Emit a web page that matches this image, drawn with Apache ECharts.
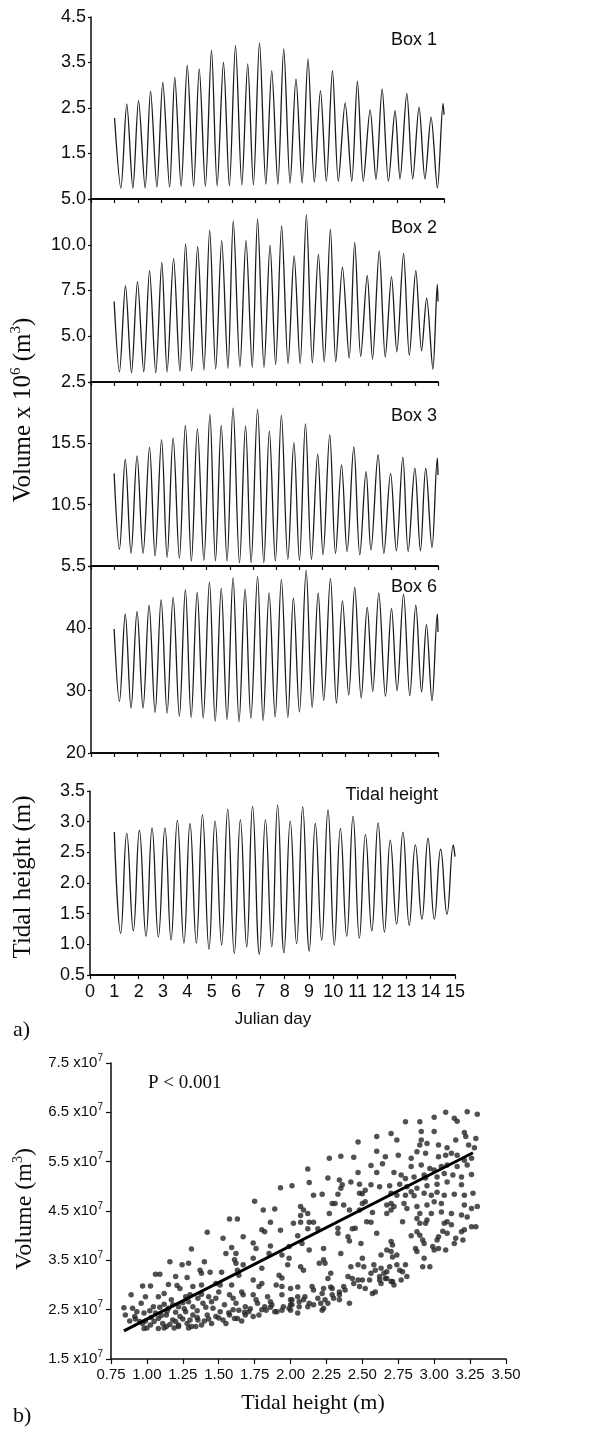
<!DOCTYPE html>
<html><head><meta charset="utf-8">
<script src="https://cdn.jsdelivr.net/npm/echarts@6/dist/echarts.min.js"></script>
<style>html,body{margin:0;padding:0;background:#fff}#c{width:594px;height:1435px}</style>
</head><body><div id="c"></div>
<script>
// ---------------- DATA ----------------
// Panel a: Julian day vs value, extrema of each tidal cycle
const box1Days = [1.00,1.27,1.52,1.78,2.02,2.30,2.53,2.80,3.05,3.34,3.56,3.83,4.09,4.36,4.60,4.86,5.12,5.36,5.63,5.88,6.14,6.41,6.66,6.90,7.16,7.43,7.68,7.94,8.19,8.46,8.71,8.97,9.22,9.49,9.75,10.00,10.26,10.51,10.80,11.08,11.32,11.57,11.86,12.11,12.37,12.64,12.92,13.13,13.42,13.67,13.94,14.19,14.45,14.72,14.96,15.00];
const box1Vals = [2.28,0.74,2.59,0.74,2.66,0.74,2.87,0.76,3.06,0.76,3.18,0.78,3.44,0.78,3.36,0.78,3.77,0.79,3.50,0.79,3.87,0.81,3.47,0.81,3.93,0.83,3.32,0.83,3.80,0.85,3.14,0.85,3.58,0.87,2.88,0.89,3.32,0.89,2.61,0.89,3.09,0.89,2.46,0.93,2.92,0.89,2.44,0.94,2.82,0.94,2.52,0.94,2.30,0.74,2.60,2.35];

const box2Days = [1.00,1.23,1.49,1.75,2.01,2.28,2.53,2.80,3.06,3.29,3.57,3.84,4.09,4.35,4.61,4.88,5.13,5.39,5.65,5.92,6.15,6.44,6.70,6.97,7.20,7.48,7.74,7.98,8.24,8.52,8.78,9.04,9.31,9.57,9.83,10.08,10.35,10.58,10.87,11.16,11.40,11.66,11.94,12.17,12.46,12.72,12.99,13.22,13.51,13.76,14.04,14.29,14.51,14.78,14.97,15.00];
const box2Vals = [6.90,3.05,7.77,3.00,7.99,3.05,8.59,3.00,9.04,3.05,9.26,3.10,10.04,3.10,9.89,3.15,10.80,3.20,10.22,3.25,11.30,3.33,10.22,3.30,11.40,3.30,9.98,3.45,11.03,3.50,9.40,3.50,11.63,3.55,9.49,3.60,10.85,3.60,8.77,3.80,10.13,3.90,8.32,3.75,9.67,3.85,8.26,4.15,9.53,3.95,8.59,4.20,7.10,3.20,7.83,6.90];

const box3Days = [1.00,1.23,1.48,1.73,1.99,2.25,2.53,2.77,3.05,3.29,3.55,3.82,4.08,4.34,4.60,4.88,5.14,5.38,5.63,5.88,6.14,6.42,6.68,6.92,7.20,7.47,7.71,7.97,8.23,8.51,8.77,9.01,9.27,9.53,9.80,10.03,10.32,10.57,10.83,11.07,11.36,11.62,11.89,12.10,12.41,12.66,12.95,13.20,13.48,13.71,14.00,14.24,14.47,14.74,14.97,15.00];
const box3Vals = [13.05,6.87,14.21,6.54,14.48,6.54,15.17,6.32,15.80,6.19,15.94,6.13,16.96,5.91,16.68,5.97,17.86,5.91,16.96,5.91,18.36,5.77,16.90,5.77,18.27,5.77,16.49,5.91,17.78,6.05,15.58,5.97,17.09,6.05,14.62,6.41,16.21,6.52,13.74,6.68,15.20,6.41,13.19,6.79,14.57,6.52,13.05,6.74,14.37,6.68,13.47,6.74,13.47,7.01,14.29,12.92];

const box6Days = [1.00,1.23,1.48,1.73,1.99,2.25,2.51,2.77,3.03,3.29,3.55,3.82,4.08,4.33,4.59,4.85,5.12,5.37,5.63,5.88,6.14,6.40,6.66,6.91,7.20,7.44,7.70,7.96,8.23,8.51,8.75,9.01,9.30,9.56,9.82,10.06,10.35,10.61,10.87,11.14,11.40,11.68,11.94,12.18,12.44,12.73,12.99,13.23,13.51,13.78,14.04,14.29,14.50,14.74,14.97,15.00];
const box6Vals = [39.9,28.3,42.3,27.2,42.7,27.2,43.7,26.5,44.6,26.4,45.0,25.9,46.2,25.7,45.8,25.6,47.4,25.1,46.4,25.4,48.1,25.0,46.3,25.6,48.3,25.2,45.7,25.8,47.8,25.7,44.9,26.6,49.3,27.3,45.7,28.4,48.0,28.0,44.4,29.3,46.6,28.8,43.4,29.9,45.7,29.1,43.2,30.0,45.5,29.2,43.7,29.8,40.6,28.4,42.3,39.4];

const tideDays = [1.00,1.26,1.51,1.78,2.03,2.30,2.55,2.81,3.08,3.33,3.59,3.86,4.11,4.37,4.62,4.89,5.14,5.41,5.66,5.93,6.18,6.44,6.68,6.96,7.21,7.47,7.71,7.97,8.23,8.49,8.74,9.01,9.26,9.52,9.78,10.04,10.29,10.55,10.81,11.07,11.32,11.58,11.84,12.10,12.34,12.60,12.86,13.12,13.37,13.64,13.89,14.15,14.41,14.67,14.93,15.00];
const tideVals = [2.83,1.18,2.81,1.22,2.86,1.13,2.90,1.12,2.90,1.07,3.02,1.02,2.97,1.02,3.11,0.92,3.01,0.99,3.20,0.85,3.03,0.96,3.25,0.84,3.03,0.96,3.27,0.86,3.01,1.01,3.24,0.89,2.97,1.07,3.19,0.99,2.89,1.13,3.09,1.10,2.79,1.22,2.98,1.20,2.70,1.33,2.83,1.31,2.62,1.41,2.73,1.41,2.55,1.49,2.62,2.43];

// tick values / labels
const dayTicks = [0,1,2,3,4,5,6,7,8,9,10,11,12,13,14,15];
const dayLabels = ['0','1','2','3','4','5','6','7','8','9','10','11','12','13','14','15'];
const box1Ticks = [0.5,1.5,2.5,3.5,4.5];
const box1Labels = ['5.0','1.5','2.5','3.5','4.5'];
const box2Ticks = [2.5,5,7.5,10,12.5];
const box2LabelVals = [2.5,5,7.5,10];
const box2Labels = ['2.5','5.0','7.5','10.0'];
const box3Ticks = [5.5,10.5,15.5,20.5];
const box3LabelVals = [5.5,10.5,15.5];
const box3Labels = ['5.5','10.5','15.5'];
const box6Ticks = [20,30,40,50];
const box6LabelVals = [20,30,40];
const box6Labels = ['20','30','40'];
const tideTicks = [0.5,1.0,1.5,2.0,2.5,3.0,3.5];
const tideLabels = ['0.5','1.0','1.5','2.0','2.5','3.0','3.5'];

// Panel b: tidal height (m) vs volume (units of 1e7 m3)
const bXTicks = [0.75,1.00,1.25,1.50,1.75,2.00,2.25,2.50,2.75,3.00,3.25,3.50];
const bXLabels = ['0.75','1.00','1.25','1.50','1.75','2.00','2.25','2.50','2.75','3.00','3.25','3.50'];
const bYTicks = [1.5,2.5,3.5,4.5,5.5,6.5,7.5];
const bYLabels = ['1.5','2.5','3.5','4.5','5.5','6.5','7.5'];
const regT = [0.84, 3.27];
const regV = [2.07, 5.68];
const scatterPts = [
[1.75,4.70],[1.81,4.52],[1.89,4.54],[1.93,4.97],
[3.08,6.50],[3.23,6.51],[3.30,6.46],[3.00,6.40],[3.14,6.38],[3.16,6.32],[2.80,6.31],[2.90,6.31],[2.70,6.07],[2.60,6.01],[2.74,5.94],[2.91,6.11],[3.00,6.11],[2.47,5.90],[3.21,6.09],[3.22,6.01],[3.29,5.97],[2.91,5.94],[2.95,5.87],[3.03,5.84],[3.15,5.94],[2.90,5.84],[3.09,5.78],[3.24,5.84],[3.28,5.78],[2.60,5.71],[2.66,5.60],[2.75,5.63],[2.84,5.57],[2.88,5.70],[2.94,5.67],[3.03,5.60],[3.08,5.63],[3.12,5.67],[3.16,5.63],[3.21,5.53],[3.26,5.57],[2.35,5.61],[2.27,5.57],[2.44,5.59],[2.56,5.42],[2.64,5.46],[2.84,5.40],[2.91,5.43],[2.97,5.36],[3.00,5.33],[3.05,5.40],[3.09,5.43],[3.16,5.40],[3.23,5.43],[2.12,5.35],[2.26,5.17],[2.34,5.13],[2.42,5.09],[2.47,5.28],[2.60,5.28],[2.72,5.28],[2.77,5.23],[2.80,5.16],[2.86,5.19],[2.93,5.23],[2.94,5.17],[3.02,5.19],[3.07,5.26],[3.13,5.23],[3.19,5.19],[3.26,5.24],[2.13,5.08],[2.36,5.03],[2.48,5.04],[2.56,5.03],[2.62,4.99],[2.69,5.01],[2.76,5.04],[2.81,4.99],[2.84,4.89],[2.88,4.96],[2.95,5.01],[3.02,5.04],[3.09,5.09],[3.19,5.03],[2.01,5.01],[2.16,4.82],[2.22,4.84],[2.33,4.84],[2.35,4.96],[2.48,4.86],[2.50,4.85],[2.52,4.92],[2.70,4.86],[2.74,4.82],[2.80,4.82],[2.86,4.81],[2.93,4.86],[2.98,4.82],[3.02,4.88],[3.07,4.82],[3.14,4.84],[3.21,4.82],[3.27,4.86],[2.07,4.59],[2.09,4.52],[2.12,4.45],[2.29,4.65],[2.31,4.65],[2.37,4.62],[2.50,4.65],[2.52,4.69],[2.67,4.62],[2.70,4.65],[2.72,4.59],[2.79,4.65],[2.81,4.55],[2.88,4.59],[2.95,4.62],[3.00,4.69],[3.05,4.65],[3.21,4.62],[3.26,4.55],[3.30,4.59],[2.27,4.45],[2.41,4.52],[2.48,4.52],[2.57,4.47],[2.67,4.45],[2.70,4.52],[2.90,4.45],[2.98,4.45],[3.05,4.48],[3.12,4.45],[3.19,4.42],[3.23,4.38],
[1.575,4.34],[1.63,4.34],[1.86,4.27],[1.80,4.12],[1.82,4.08],[1.93,4.11],[1.42,4.07],[1.67,3.98],[1.53,3.95],[1.74,3.85],[1.59,3.76],[1.76,3.74],[1.86,3.79],[1.99,3.78],[1.31,3.73],[1.55,3.64],[1.62,3.64],[1.85,3.64],[1.94,3.61],[1.16,3.47],[1.29,3.44],[1.245,3.41],[1.40,3.47],[1.61,3.51],[1.62,3.44],[1.67,3.41],[1.74,3.54],[1.80,3.34],[1.99,3.54],[1.98,3.41],[1.06,3.22],[1.09,3.22],[1.20,3.17],[1.28,3.15],[1.37,3.30],[1.38,3.24],[1.44,3.26],[1.52,3.26],[1.63,3.30],[1.64,3.20],[1.74,3.10],[1.92,3.20],[1.94,3.14],[0.97,2.98],[1.025,2.98],[1.15,3.01],[1.21,2.99],[1.23,2.93],[1.32,2.97],[1.38,3.00],[1.48,3.03],[1.51,3.00],[1.59,3.00],[1.66,2.86],[1.67,2.80],[1.80,3.03],[1.78,2.97],[1.90,3.00],[1.94,2.97],[2.00,2.93],[0.89,2.80],[0.99,2.76],[1.08,2.76],[1.12,2.83],[1.17,2.70],[1.27,2.76],[1.30,2.80],[1.38,2.81],[1.355,2.73],[1.43,2.76],[1.50,2.86],[1.48,2.73],[1.575,2.80],[1.60,2.73],[1.74,2.80],[1.76,2.70],[1.84,2.76],[1.86,2.66],[1.94,2.80],[2.00,2.70],[0.84,2.54],[0.90,2.53],[0.96,2.63],[1.045,2.56],[1.12,2.61],[1.15,2.53],[1.22,2.56],[1.29,2.66],[1.32,2.56],[1.39,2.63],[1.45,2.66],[1.46,2.53],[1.54,2.60],[1.62,2.63],[1.64,2.49],[1.685,2.56],[1.77,2.63],[1.82,2.56],[1.87,2.60],[1.905,2.46],[1.95,2.56],[2.01,2.60],[0.85,2.39],[0.915,2.36],[0.98,2.43],[0.99,2.27],[1.06,2.43],[1.08,2.32],[1.135,2.39],[1.18,2.29],[1.23,2.36],[1.27,2.46],[1.32,2.39],[1.355,2.29],[1.42,2.39],[1.48,2.36],[1.51,2.46],[1.575,2.39],[1.61,2.32],[1.685,2.39],[1.71,2.46],[1.78,2.39],[1.83,2.49],[1.89,2.46],[1.94,2.49],[1.99,2.53],[0.88,2.27],[0.95,2.26],[0.97,2.22],[1.025,2.19],[1.05,2.26],[1.11,2.22],[1.135,2.16],[1.20,2.26],[1.22,2.19],[1.28,2.22],[1.31,2.16],[1.38,2.19],[1.40,2.27],[1.45,2.22],[1.53,2.29],[1.55,2.22],[1.63,2.32],[1.66,2.27],[1.74,2.36],[0.98,2.12],[1.00,2.13],[1.08,2.12],[1.12,2.13],[1.19,2.13],[1.22,2.16],[1.29,2.13],[1.34,2.16],
[0.92,2.31],[1.03,2.34],[1.10,2.38],[1.16,2.20],[1.25,2.31],[1.30,2.29],[1.35,2.34],[1.43,2.31],[1.50,2.33],[1.57,2.44],[1.60,2.50],[1.68,2.45],[1.72,2.52],[1.80,2.50],[1.86,2.55],[1.14,2.47],[1.20,2.45],[1.26,2.52],[1.35,2.48],[1.41,2.55],[0.93,2.46],[1.02,2.48],[1.09,2.55],[1.18,2.60],[1.25,2.64],
[2.07,4.41],[2.02,4.25],[2.07,4.27],[2.13,4.27],[2.16,4.27],[2.19,4.14],[2.12,4.14],[2.05,4.00],[2.08,3.84],[2.33,4.15],[2.33,4.05],[2.43,4.14],[2.45,4.15],[2.40,3.98],[2.41,3.89],[2.53,4.28],[2.56,4.27],[2.60,4.05],[2.49,3.84],[2.35,3.64],[2.13,3.71],[2.23,3.74],[2.70,3.88],[2.71,3.81],[2.67,3.71],[2.70,3.68],[2.63,3.61],[2.71,3.57],[2.74,3.61],[2.78,4.28],[2.84,4.00],[2.88,4.35],[2.90,4.25],[2.88,4.08],[2.90,4.01],[2.92,3.91],[2.93,3.84],[2.95,4.32],[2.94,4.25],[2.87,3.74],[2.88,3.68],[2.99,3.78],[3.00,3.71],[3.02,3.91],[3.03,3.98],[3.03,3.74],[3.08,3.71],[3.07,4.25],[3.09,4.28],[3.12,4.22],[3.06,4.09],[3.09,4.05],[3.14,3.84],[3.15,3.95],[3.19,4.08],[3.21,4.12],[3.20,3.91],[3.26,4.18],[3.29,4.18],[2.93,3.54],[2.92,3.37],[2.97,3.37],[2.71,3.07],[2.72,3.00],[2.74,3.41],[2.76,3.30],[2.80,3.41],[2.78,3.27],[2.81,3.17],[2.77,3.10],[2.67,3.27],[2.69,3.37],[2.65,3.24],[2.66,3.13],[2.63,3.34],[2.62,3.17],[2.58,3.41],[2.59,3.30],[2.50,3.54],[2.51,3.37],[2.56,3.24],[2.55,3.10],[2.62,3.10],[2.63,3.03],[2.67,3.13],[2.70,3.07],[2.59,2.86],[2.57,2.83],[2.50,3.10],[2.52,2.93],[2.47,3.10],[2.48,2.97],[2.43,3.13],[2.44,3.03],[2.47,3.41],[2.42,3.37],[2.40,3.17],[2.37,2.97],[2.38,2.90],[2.34,2.86],[2.34,2.80],[2.28,2.96],[2.29,2.93],[2.26,3.13],[2.28,3.24],[2.23,3.51],[2.24,3.44],[2.20,3.44],[2.07,3.37],[2.09,3.30],[2.05,2.96],[2.15,2.97],[2.16,2.90],[2.23,2.93],[2.22,2.83],[2.29,2.80],[2.30,2.73],[2.24,2.70],[2.26,2.63],[2.19,2.73],[2.21,2.63],[2.41,2.63],[2.34,2.70],[2.10,2.76],[2.09,2.70],[2.05,2.76],[2.06,2.66],[2.01,2.70],[2.00,2.60],[2.13,2.63],[2.12,2.56],[2.06,2.56],[2.05,2.43],[2.22,2.49],[2.23,2.53],[2.16,2.60],[2.00,2.49]
];

// ---------------- CHART ----------------
const SANS = "'Liberation Sans', Arial, Helvetica, sans-serif";
const SERIF = "'Liberation Serif', 'Times New Roman', Times, serif";
const INK = '#0d0d0d';

function zip(xs, ys) { const n = Math.min(xs.length, ys.length); const o = []; for (let i = 0; i < n; i++) o.push([xs[i], ys[i]]); return o; }
function lookup(vals, texts) { return function (v) { for (let i = 0; i < vals.length; i++) if (Math.abs(vals[i] - v) < 1e-9) return texts[i]; return ''; }; }

const grids = [
  { left: 91, top: 17, width: 353, height: 182 },
  { left: 91, top: 199, width: 347, height: 183 },
  { left: 91, top: 382, width: 347, height: 184 },
  { left: 91, top: 566, width: 347, height: 187 },
  { left: 90, top: 791, width: 365, height: 184 },
  { left: 111, top: 1063, width: 395, height: 296 }
];

function boxX(gi) {
  return { type: 'value', gridIndex: gi, min: 0, max: 15,
    axisLine: { show: true, lineStyle: { color: INK, width: 2 } },
    axisTick: { show: true, length: 4, customValues: dayTicks, lineStyle: { color: INK, width: 1.2 } },
    axisLabel: { show: false }, splitLine: { show: false } };
}
function valY(gi, min, max, ticks, labVals, labTexts) {
  return { type: 'value', gridIndex: gi, min: min, max: max,
    axisLine: { show: true, lineStyle: { color: INK, width: 1.5 } },
    axisTick: { show: true, length: 3, customValues: ticks, lineStyle: { color: INK, width: 1.2 } },
    axisLabel: { show: true, customValues: labVals, formatter: lookup(labVals, labTexts), showMinLabel: true, showMaxLabel: true,
      fontFamily: SANS, fontSize: 18, color: INK, margin: 5 },
    splitLine: { show: false } };
}

const xAxes = [boxX(0), boxX(1), boxX(2), boxX(3),
  { type: 'value', gridIndex: 4, min: 0, max: 15,
    axisLine: { show: true, lineStyle: { color: INK, width: 2 } },
    axisTick: { show: true, length: 4, customValues: dayTicks, lineStyle: { color: INK, width: 1.2 } },
    axisLabel: { show: true, customValues: dayTicks, formatter: lookup(dayTicks, dayLabels), showMinLabel: true, showMaxLabel: true,
      fontFamily: SANS, fontSize: 18, color: INK, margin: 8 },
    splitLine: { show: false } },
  { type: 'value', gridIndex: 5, min: 0.75, max: 3.5,
    axisLine: { show: true, lineStyle: { color: INK, width: 1.5 } },
    axisTick: { show: true, length: 5, customValues: bXTicks, lineStyle: { color: INK, width: 1.2 } },
    axisLabel: { show: true, customValues: bXTicks, formatter: lookup(bXTicks, bXLabels), showMinLabel: true, showMaxLabel: true,
      fontFamily: SANS, fontSize: 15, color: INK, margin: 8 },
    splitLine: { show: false } }
];

const bYFmt = lookup(bYTicks, bYLabels);
const yAxes = [
  valY(0, 0.5, 4.5, box1Ticks, box1Ticks, box1Labels),
  valY(1, 2.5, 12.5, box2Ticks, box2LabelVals, box2Labels),
  valY(2, 5.5, 20.5, box3Ticks, box3LabelVals, box3Labels),
  valY(3, 20, 50, box6Ticks, box6LabelVals, box6Labels),
  valY(4, 0.5, 3.5, tideTicks, tideTicks, tideLabels),
  { type: 'value', gridIndex: 5, min: 1.5, max: 7.5,
    axisLine: { show: true, lineStyle: { color: INK, width: 1.5 } },
    axisTick: { show: true, length: 5, customValues: bYTicks, lineStyle: { color: INK, width: 1.2 } },
    axisLabel: { show: true, customValues: bYTicks, showMinLabel: true, showMaxLabel: true,
      formatter: function (v) { return '{a|' + bYFmt(v) + ' x10}{s|7}'; },
      margin: 8,
      rich: { a: { fontFamily: SANS, fontSize: 15, color: INK, lineHeight: 20 },
              s: { fontFamily: SANS, fontSize: 10, color: INK, lineHeight: 10, verticalAlign: 'top' } } },
    splitLine: { show: false } }
];

function waveSeries(i, days, vals, smooth) {
  return { type: 'line', xAxisIndex: i, yAxisIndex: i, data: zip(days, vals), showSymbol: false, smooth: smooth,
    lineStyle: { color: '#1a1a1a', width: 1.3 }, silent: true, animation: false };
}

const series = [
  waveSeries(0, box1Days, box1Vals, 0.3),
  waveSeries(1, box2Days, box2Vals, 0.3),
  waveSeries(2, box3Days, box3Vals, 0.35),
  waveSeries(3, box6Days, box6Vals, 0.35),
  waveSeries(4, tideDays, tideVals, 0.45),
  { type: 'scatter', xAxisIndex: 5, yAxisIndex: 5, data: scatterPts, symbol: 'circle', symbolSize: 5.5,
    itemStyle: { color: '#262626' }, silent: true, animation: false },
  { type: 'line', xAxisIndex: 5, yAxisIndex: 5, data: zip(regT, regV), showSymbol: false,
    lineStyle: { color: '#000', width: 3 }, silent: true, animation: false, z: 5 }
];

function txt(x, y, text, font, align, extra) {
  return Object.assign({ type: 'text', x: x, y: y, silent: true,
    style: { text: text, font: font, fill: INK, textAlign: align, textVerticalAlign: 'middle', align: align, verticalAlign: 'middle' } }, extra || {});
}
const supRich = function (big, small) {
  return { a: { fontFamily: SERIF, fontSize: big, fill: INK, lineHeight: big + 4 },
           s: { fontFamily: SERIF, fontSize: small, fill: INK, lineHeight: small, verticalAlign: 'top' } };
};

const graphic = [
  txt(437, 40, 'Box 1', '18px ' + SANS, 'right'),
  txt(437, 228, 'Box 2', '18px ' + SANS, 'right'),
  txt(437, 416, 'Box 3', '18px ' + SANS, 'right'),
  txt(437, 587, 'Box 6', '18px ' + SANS, 'right'),
  txt(438, 795, 'Tidal height', '18px ' + SANS, 'right'),
  txt(273, 1019, 'Julian day', '17px ' + SANS, 'center'),
  txt(13, 1030, 'a)', '22px ' + SERIF, 'left'),
  txt(148, 1083, 'P < 0.001', '19px ' + SERIF, 'left'),
  txt(313, 1403, 'Tidal height (m)', '22px ' + SERIF, 'center'),
  txt(13, 1416, 'b)', '22px ' + SERIF, 'left'),
  txt(23, 877, 'Tidal height (m)', '25px ' + SERIF, 'center', { rotation: Math.PI / 2 }),
  { type: 'text', x: 23, y: 410, rotation: Math.PI / 2, silent: true,
    style: { text: '{a|Volume x 10}{s|6}{a| (m}{s|3}{a|)}', rich: supRich(25, 15), fill: INK,
      textAlign: 'center', textVerticalAlign: 'middle', align: 'center', verticalAlign: 'middle' } },
  { type: 'text', x: 25, y: 1209, rotation: Math.PI / 2, silent: true,
    style: { text: '{a|Volume (m}{s|3}{a|)}', rich: supRich(24, 14), fill: INK,
      textAlign: 'center', textVerticalAlign: 'middle', align: 'center', verticalAlign: 'middle' } }
];

const chart = echarts.init(document.getElementById('c'), null, { renderer: 'canvas' });
chart.setOption({ animation: false, backgroundColor: '#fff', grid: grids, xAxis: xAxes, yAxis: yAxes, series: series, graphic: graphic });
</script></body></html>
